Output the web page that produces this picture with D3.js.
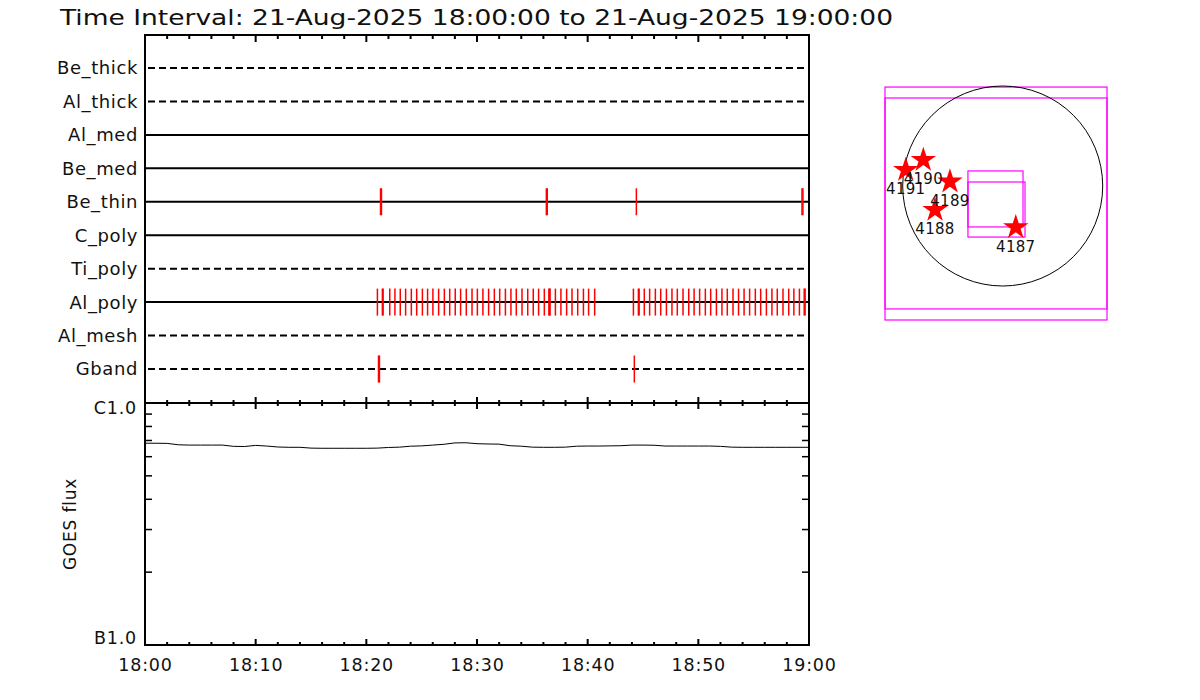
<!DOCTYPE html>
<html>
<head>
<meta charset="utf-8">
<script src="https://cdn.jsdelivr.net/npm/d3@7"></script>
<style>
  body { margin: 0; background: #fff; }
  svg { display: block; font-family: "DejaVu Sans", sans-serif; }
</style>
</head>
<body>
<script>
const title = "Time Interval: 21-Aug-2025 18:00:00 to 21-Aug-2025 19:00:00";

// attenuator / filter channels, top to bottom
const channels = ["Be_thick", "Al_thick", "Al_med", "Be_med", "Be_thin", "C_poly", "Ti_poly", "Al_poly", "Al_mesh", "Gband"];
const dashed = ["Be_thick", "Al_thick", "Ti_poly", "Al_mesh", "Gband"];

// exposure times per channel (hh:mm:ss)
const beThinTimes = ["18:21:17", "18:21:22", "18:36:16", "18:36:21", "18:44:24", "18:59:22", "18:59:27"];
const gbandTimes = ["18:21:06", "18:21:11", "18:44:13"];
const alPolyTimes = [
  "18:21:00", "18:21:27", "18:21:31", "18:22:07", "18:22:35", "18:23:04", "18:23:33", "18:24:04",
  "18:24:33", "18:25:04", "18:25:32", "18:26:01", "18:26:32", "18:27:03", "18:27:32", "18:28:02",
  "18:28:31", "18:29:02", "18:29:33", "18:30:02", "18:30:32", "18:31:03", "18:31:34", "18:32:03",
  "18:32:34", "18:33:04", "18:33:33", "18:34:04", "18:34:35", "18:35:05", "18:35:34", "18:36:05",
  "18:36:30", "18:36:33", "18:36:36", "18:37:05", "18:37:35", "18:38:06", "18:38:35", "18:39:06",
  "18:39:37", "18:40:05", "18:40:38",
  "18:44:08", "18:44:35", "18:44:39", "18:45:07", "18:45:36", "18:46:07", "18:46:36", "18:47:07",
  "18:47:37", "18:48:06", "18:48:37", "18:49:08", "18:49:37", "18:50:07", "18:50:38", "18:51:07",
  "18:51:38", "18:52:08", "18:52:37", "18:53:08", "18:53:38", "18:54:08", "18:54:38", "18:55:09",
  "18:55:38", "18:56:09", "18:56:39", "18:57:08", "18:57:39", "18:58:10", "18:58:38", "18:59:08",
  "18:59:34", "18:59:39"
];

// GOES 1-8 A flux, one value per minute 18:00 .. 19:00
const goesMinutes = d3.range(0, 61);
const goesFlux = [
  6.82e-7, 6.82e-7, 6.81e-7, 6.72e-7, 6.70e-7, 6.70e-7, 6.70e-7, 6.70e-7, 6.62e-7, 6.61e-7,
  6.68e-7, 6.64e-7, 6.58e-7, 6.56e-7, 6.56e-7, 6.51e-7, 6.50e-7, 6.50e-7, 6.50e-7, 6.50e-7,
  6.50e-7, 6.51e-7, 6.55e-7, 6.57e-7, 6.63e-7, 6.65e-7, 6.70e-7, 6.75e-7, 6.84e-7, 6.85e-7,
  6.79e-7, 6.77e-7, 6.76e-7, 6.66e-7, 6.63e-7, 6.57e-7, 6.56e-7, 6.56e-7, 6.57e-7, 6.63e-7,
  6.64e-7, 6.64e-7, 6.65e-7, 6.66e-7, 6.70e-7, 6.70e-7, 6.69e-7, 6.64e-7, 6.64e-7, 6.64e-7,
  6.64e-7, 6.64e-7, 6.62e-7, 6.57e-7, 6.56e-7, 6.56e-7, 6.56e-7, 6.56e-7, 6.56e-7, 6.56e-7,
  6.56e-7
];

// active regions on the disk (arcsec)
const arNumbers = ["4191", "4190", "4189", "4188", "4187"];
const arX = [-921, -754, -501, -643, 124];
const arY = [152, 247, 41, -228, -392];

// fields of view (arcsec): [x0, y0, x1, y1]
const fovBoxes = [
  [-1118, 940, 991, -1168],
  [-1118, 836, 991, -1273],
  [-330, 143, 193, -389],
  [-330, 38, 212, -485]
];
const solarRadius = 950;

const parseT = d3.utcParse("%Y-%m-%d %H:%M:%S");
const t0 = parseT("2025-08-21 18:00:00");
const t1 = parseT("2025-08-21 19:00:00");
const toDate = s => parseT("2025-08-21 " + s);

const svg = d3.select("body").append("svg")
  .attr("width", 1200)
  .attr("height", 700);

const xLeft = 145, xRight = 809, yTop = 35, yMid = 403, yBottom = 645;

const x = d3.scaleUtc().domain([t0, t1]).range([xLeft, xRight]);
const rowY = d3.scalePoint().domain(channels).range([68, 369]);
const yFlux = d3.scaleLog().domain([1e-7, 1e-6]).range([yBottom, yMid]);

// title
svg.append("text")
  .attr("x", 60).attr("y", 25)
  .attr("font-size", 21)
  .attr("textLength", 833)
  .attr("lengthAdjust", "spacingAndGlyphs")
  .attr("fill", "#111")
  .text(title);

// channel rows
const rows = svg.append("g");
rows.selectAll("line")
  .data(channels)
  .enter().append("line")
  .attr("x1", d => dashed.includes(d) ? xLeft + 3 : xLeft)
  .attr("x2", xRight)
  .attr("y1", d => rowY(d))
  .attr("y2", d => rowY(d))
  .attr("stroke", "#000")
  .attr("stroke-width", 2)
  .attr("stroke-dasharray", d => dashed.includes(d) ? "7,4" : null);

rows.selectAll("text")
  .data(channels)
  .enter().append("text")
  .attr("x", 138)
  .attr("y", d => rowY(d))
  .attr("dy", "0.36em")
  .attr("text-anchor", "end")
  .attr("font-size", 18)
  .attr("letter-spacing", 0.6)
  .attr("fill", "#111")
  .text(d => d);

// exposure marks
const events = [
  { ch: "Be_thin", times: beThinTimes },
  { ch: "Al_poly", times: alPolyTimes },
  { ch: "Gband", times: gbandTimes }
];
const marks = svg.append("g");
events.forEach(ev => {
  marks.selectAll(null)
    .data(ev.times)
    .enter().append("line")
    .attr("x1", d => x(toDate(d)))
    .attr("x2", d => x(toDate(d)))
    .attr("y1", rowY(ev.ch) - 13.5)
    .attr("y2", rowY(ev.ch) + 13.5)
    .attr("stroke", "#ff0000")
    .attr("stroke-width", 1.5);
});

// GOES curve
const line = d3.line()
  .x((d, i) => x(d3.utcMinute.offset(t0, goesMinutes[i])))
  .y(d => yFlux(d));
svg.append("path")
  .datum(goesFlux)
  .attr("fill", "none")
  .attr("stroke", "#000")
  .attr("stroke-width", 1)
  .attr("d", line);

// frames
const frame = svg.append("g").attr("stroke", "#000").attr("stroke-width", 2).attr("fill", "none");
frame.append("rect").attr("x", xLeft).attr("y", yTop).attr("width", xRight - xLeft).attr("height", yBottom - yTop);
frame.append("line").attr("x1", xLeft).attr("x2", xRight).attr("y1", yMid).attr("y2", yMid);

// time ticks
const minor = x.ticks(d3.utcMinute.every(2));
const isMajor = d => d.getUTCMinutes() % 10 === 0;
const ticks = svg.append("g").attr("stroke", "#000").attr("stroke-width", 2);
ticks.selectAll(".top").data(minor).enter().append("line")
  .attr("x1", d => x(d)).attr("x2", d => x(d))
  .attr("y1", yTop).attr("y2", d => yTop + (isMajor(d) ? 7 : 4));
ticks.selectAll(".mid").data(minor).enter().append("line")
  .attr("x1", d => x(d)).attr("x2", d => x(d))
  .attr("y1", d => yMid - (isMajor(d) ? 6 : 3)).attr("y2", d => yMid + (isMajor(d) ? 6 : 3));
ticks.selectAll(".bot").data(minor).enter().append("line")
  .attr("x1", d => x(d)).attr("x2", d => x(d))
  .attr("y1", yBottom).attr("y2", d => yBottom - (isMajor(d) ? 6 : 3));

// time labels
const xAxis = svg.append("g")
  .attr("transform", `translate(0,${yBottom})`)
  .call(d3.axisBottom(x).ticks(d3.utcMinute.every(10)).tickSize(0).tickPadding(14).tickFormat(d3.utcFormat("%H:%M")));
xAxis.select(".domain").remove();
xAxis.selectAll("text")
  .attr("font-size", 17.5)
  .attr("letter-spacing", 0.8)
  .attr("font-family", "DejaVu Sans")
  .attr("fill", "#111");

// flux ticks
const fluxMinor = yFlux.ticks().filter(d => d > 1.01e-7 && d < 0.99e-6);
const fluxTicks = svg.append("g").attr("stroke", "#000").attr("stroke-width", 1.5);
fluxTicks.selectAll(".l").data(fluxMinor).enter().append("line")
  .attr("x1", xLeft).attr("x2", xLeft + 7)
  .attr("y1", d => yFlux(d)).attr("y2", d => yFlux(d));
fluxTicks.selectAll(".r").data(fluxMinor).enter().append("line")
  .attr("x1", xRight - 7).attr("x2", xRight)
  .attr("y1", d => yFlux(d)).attr("y2", d => yFlux(d));

const fluxLabels = [{ v: 1e-6, t: "C1.0" }, { v: 1e-7, t: "B1.0" }];
svg.append("g").selectAll("text")
  .data(fluxLabels)
  .enter().append("text")
  .attr("x", 137)
  .attr("y", (d, i) => yFlux(d.v) + (i === 0 ? 5 : -7))
  .attr("dy", "0.36em")
  .attr("text-anchor", "end")
  .attr("font-size", 17.5)
  .attr("letter-spacing", 0.8)
  .attr("fill", "#111")
  .text(d => d.t);

svg.append("text")
  .attr("transform", `translate(76,${(yMid + yBottom) / 2}) rotate(-90)`)
  .attr("text-anchor", "middle")
  .attr("font-size", 17)
  .attr("letter-spacing", 0.8)
  .attr("fill", "#111")
  .text("GOES flux");

// solar disk panel
const cx = 1002.7, cy = 186, rPx = 100;
const sx = d3.scaleLinear().domain([-solarRadius, solarRadius]).range([cx - rPx, cx + rPx]);
const sy = d3.scaleLinear().domain([-solarRadius, solarRadius]).range([cy + rPx, cy - rPx]);

const disk = svg.append("g");
disk.selectAll("rect")
  .data(fovBoxes)
  .enter().append("rect")
  .attr("x", d => sx(d[0]))
  .attr("y", d => sy(d[1]))
  .attr("width", d => sx(d[2]) - sx(d[0]))
  .attr("height", d => sy(d[3]) - sy(d[1]))
  .attr("fill", "none")
  .attr("stroke", "#ff00ff")
  .attr("stroke-width", 1.2);

disk.append("circle")
  .attr("cx", sx(0)).attr("cy", sy(0))
  .attr("r", sx(solarRadius) - sx(0))
  .attr("fill", "none")
  .attr("stroke", "#000")
  .attr("stroke-width", 1);

const star = d3.symbol().type(d3.symbolStar).size(200);
disk.selectAll("path.star")
  .data(arNumbers)
  .enter().append("path")
  .attr("class", "star")
  .attr("transform", (d, i) => `translate(${sx(arX[i])},${sy(arY[i])})`)
  .attr("d", star)
  .attr("fill", "#ff0000");

disk.selectAll("text.ar")
  .data(arNumbers)
  .enter().append("text")
  .attr("class", "ar")
  .attr("x", (d, i) => sx(arX[i]))
  .attr("y", (d, i) => sy(arY[i]) + 19)
  .attr("dy", "0.36em")
  .attr("text-anchor", "middle")
  .attr("font-size", 15)
  .attr("letter-spacing", 0.3)
  .attr("fill", "#111")
  .text(d => d);
</script>
</body>
</html>
